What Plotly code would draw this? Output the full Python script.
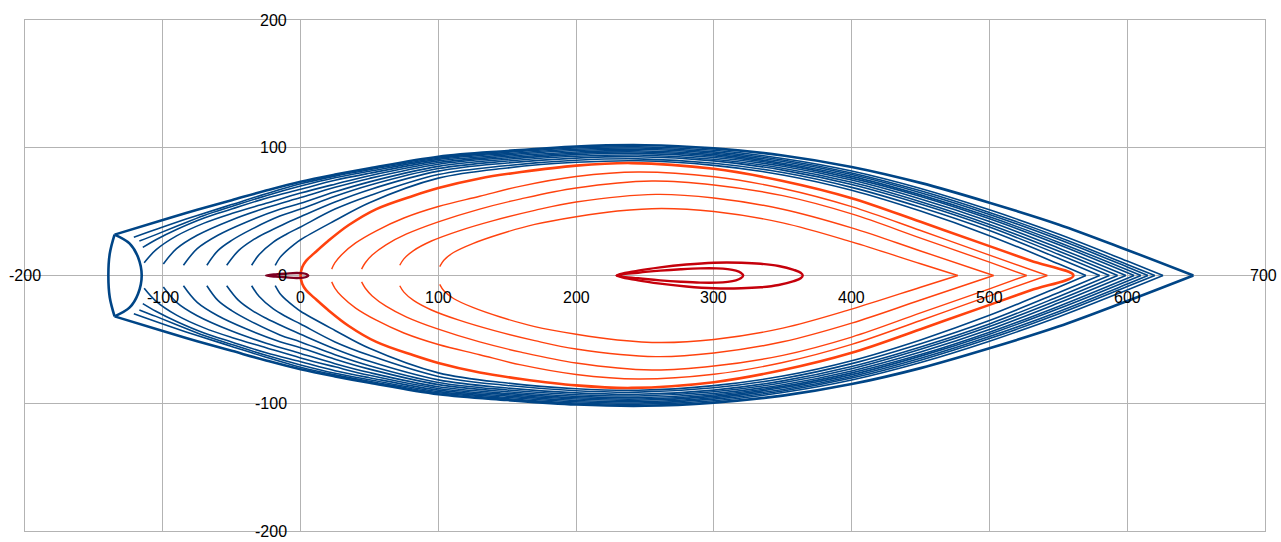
import plotly.graph_objects as go

# ---------------- data (upper halves; curves are mirror-symmetric about y=0) ----------------
C1_X = [-18.4, -15, -10, -5, 0, 25, 50, 100, 150, 200, 245, 300, 350, 400, 450, 500, 550, 570]
C1_Y = [8, 14, 19.5, 24, 28, 43, 57, 76.2, 84.2, 88.6, 89.8, 86.2, 78.7, 66.7, 50.4, 31.2, 9.2, 0]
C2_X = [-35.5, -30, -20, -10, 0, 25, 50, 100, 150, 200, 245, 300, 350, 400, 450, 500, 550, 580]
C2_Y = [8, 16.5, 26, 32.5, 38, 52, 62.5, 79.0, 86.1, 90.2, 91.3, 87.9, 80.6, 69.0, 53.4, 35.2, 13.5, 0]
C3_X = [-53.6, -45, -35, -25, -12.5, 0, 25, 50, 100, 150, 200, 245, 300, 350, 400, 450, 500, 550, 587]
C3_Y = [8, 19.5, 27.5, 33.5, 40, 46, 57.5, 67.2, 81.7, 88.1, 91.9, 93, 89.7, 82.5, 71.2, 55.9, 37.9, 16.6, 0]
C4_X = [-68, -60, -50, -35, -15, 0, 25, 50, 100, 150, 200, 245, 300, 350, 400, 450, 500, 550, 593]
C4_Y = [8, 19.5, 27.5, 36.5, 46.5, 52, 62, 70.6, 83.7, 89.6, 93.3, 94.3, 91.0, 84.0, 73.0, 57.8, 40.0, 19.2, 0]
C5_X = [-85, -75, -60, -40, -15, 0, 25, 50, 100, 150, 200, 245, 300, 350, 400, 450, 500, 550, 599]
C5_Y = [8, 21, 31.5, 41.5, 51.8, 56.5, 65.5, 73.3, 85.4, 91.0, 94.6, 95.6, 92.4, 85.5, 74.7, 59.9, 42.3, 21.6, 0]
C6_X = [-99.6, -90, -75, -50, -25, 0, 25, 50, 100, 150, 200, 245, 300, 350, 400, 450, 500, 550, 605]
C6_Y = [9, 21, 31.5, 43.5, 53, 61, 69, 76, 87.1, 92.2, 95.7, 96.7, 93.5, 86.8, 76.2, 61.9, 44.4, 24.2, 0]
C7_X = [-113.5, -105, -90, -70, -50, -25, 0, 25, 50, 100, 150, 200, 245, 300, 350, 400, 450, 500, 550, 610]
C7_Y = [10, 20, 31, 41, 48.5, 56.5, 64.5, 71.5, 78.1, 88.4, 93.3, 96.7, 97.7, 94.6, 87.9, 77.6, 63.1, 45.9, 26.1, 0]
C8_X = [-114.5, -105, -90, -70, -50, -25, 0, 25, 50, 100, 150, 200, 245, 300, 350, 400, 450, 500, 550, 600, 615]
C8_Y = [22, 28, 36, 45, 52, 60.5, 67.5, 74.5, 80, 89.7, 94.4, 97.8, 98.8, 95.7, 89.2, 79.0, 64.8, 47.8, 28.3, 6.7, 0]
C9_X = [-117, -105, -90, -70, -50, -25, 0, 25, 50, 100, 150, 200, 245, 300, 350, 400, 450, 500, 550, 600, 620]
C9_Y = [27, 32, 38.5, 47, 54, 62.5, 70, 76.5, 81.6, 90.9, 95.4, 98.8, 99.8, 96.8, 90.4, 80.3, 66.3, 49.4, 30.2, 8.7, 0]
C10_X = [-121, -100, -75, -50, -25, 0, 25, 50, 100, 150, 200, 245, 300, 350, 400, 450, 500, 550, 600, 626]
C10_Y = [30, 38, 47, 55.5, 64, 71.8, 77.8, 82.8, 91.8, 96.4, 99.8, 100.8, 98.0, 91.6, 81.8, 68.1, 51.4, 32.5, 11.3, 0]
OUT_X = [-135, -100, -75, -50, -25, 0, 25, 50, 100, 150, 200, 250, 300, 350, 400, 450, 500, 550, 600, 648]
OUT_Y = [32, 43.5, 51.5, 59, 66.5, 73.4, 79, 84, 93, 97.5, 101, 102, 99.5, 94, 85, 72.5, 57, 40, 20, 0]

D_LEFT_X = [-135, -138.5, -139.5, -138.5, -135]
D_LEFT_Y = [32, 17, 0, -17, -32]
D_RIGHT_X = [-135, -124, -118, -115.3, -118, -124, -135]
D_RIGHT_Y = [32, 25, 14.5, 0, -14.5, -25, -32]

T_X = [0, 1.2, 4, 10, 20, 35, 55, 82, 100, 130, 160, 200, 240, 300, 350, 400, 450, 500, 530, 561]
T_Y = [0, 6.5, 11.5, 17.5, 27, 39.5, 52, 62.5, 68.5, 76, 81, 86, 88, 83.5, 74, 60.5, 42, 23, 11.6, 0]
O1_X = [22.6, 25, 30, 40, 55, 75, 100, 130, 160, 200, 245, 300, 350, 400, 450, 500, 542]
O1_Y = [5, 10, 16.5, 25.5, 35, 45, 54, 62, 70, 77.5, 81, 77.3, 68.1, 53.9, 35.2, 16.0, 0]
O2_X = [44.3, 47, 52, 62, 77, 100, 130, 160, 200, 255, 300, 350, 400, 450, 500, 527]
O2_Y = [5, 10, 16, 24, 32.5, 42, 52, 60, 68.5, 74, 70.9, 62.5, 48.2, 29.3, 10.4, 0]
O3_X = [72, 75, 82, 95, 115, 140, 170, 200, 258, 300, 350, 400, 450, 503]
O3_Y = [8, 13, 19.5, 27, 35, 43, 51, 57.5, 63.5, 60.7, 51.9, 37.3, 19.2, 0]
O4_X = [101, 104, 111, 125, 145, 170, 200, 230, 262, 300, 350, 400, 450, 477]
O4_Y = [7, 12, 18, 25, 32.5, 40, 46, 50.5, 52.5, 50.1, 41.2, 26.3, 9.2, 0]

L1_X = [229.4, 245, 261, 280, 300, 320, 334, 347, 358, 363, 364.5]
L1_Y = [0, 3.8, 6.4, 8.6, 10, 10, 9.2, 7.4, 4.4, 2.2, 0]
L2_X = [229.4, 245, 261, 276, 290, 302, 310, 316, 319.5, 321.3]
L2_Y = [0, 2.2, 3.8, 4.9, 5.6, 5.6, 5.0, 3.8, 2.2, 0]
M_X = [-25, -18, -10, -3, 2, 4.5, 5.6]
M_Y = [0, 0.9, 1.5, 1.9, 1.7, 1.0, 0]

X_TICKS = [-200, -100, 0, 100, 200, 300, 400, 500, 600, 700]
Y_TICKS = [-200, -100, 0, 100, 200]

BLUE = "#004586"
ORANGE = "#ff420e"
RED = "#c5000b"
MAROON = "#7e0021"
GRID = "#b3b3b3"


def open_curve(xs, ys):
    """upper half and mirrored lower half as two separate segments"""
    return xs + [None] + xs, ys + [None] + [-v for v in ys]


def through_vertex(xs, ys):
    """lower half reversed then upper half: one smooth path through the vertex"""
    return xs[::-1] + xs[1:], [-v for v in ys[::-1]] + ys[1:]


def loop(xs, ys):
    """upper half to the round end, then back along the lower half"""
    return xs + xs[-2::-1], ys + [-v for v in ys[-2::-1]]


fig = go.Figure()


def add(xy, color, width):
    fig.add_trace(go.Scatter(x=xy[0], y=xy[1], mode="lines",
                             line=dict(color=color, width=width, shape="spline", smoothing=1.0),
                             connectgaps=False, hoverinfo="skip", showlegend=False))


for cx, cy in [(C1_X, C1_Y), (C2_X, C2_Y), (C3_X, C3_Y), (C4_X, C4_Y), (C5_X, C5_Y),
               (C6_X, C6_Y), (C7_X, C7_Y), (C8_X, C8_Y), (C9_X, C9_Y), (C10_X, C10_Y)]:
    add(open_curve(cx, cy), BLUE, 1.6)

add(open_curve(OUT_X, OUT_Y), BLUE, 2.6)
add((D_LEFT_X, D_LEFT_Y), BLUE, 2.6)
add((D_RIGHT_X, D_RIGHT_Y), BLUE, 2.6)

for cx, cy in [(O1_X, O1_Y), (O2_X, O2_Y), (O3_X, O3_Y), (O4_X, O4_Y)]:
    add(open_curve(cx, cy), ORANGE, 1.4)
add(through_vertex(T_X, T_Y), ORANGE, 2.6)

add(loop(L1_X, L1_Y), RED, 2.4)
add(loop(L2_X, L2_Y), RED, 2.4)
add(loop(M_X, M_Y), MAROON, 2.4)

annotations = []
FONT = dict(family="Liberation Sans, Arial, sans-serif", size=16, color="#000000")
for v in X_TICKS:
    shift = 0 if v in (X_TICKS[0], X_TICKS[-1]) else -22
    xs = -2 if v == X_TICKS[-1] else 0
    annotations.append(dict(x=v, y=0, xref="x", yref="y", text=str(v), showarrow=False,
                            xanchor="center", yanchor="middle", yshift=shift, xshift=xs,
                            font=FONT))
for v in Y_TICKS:
    annotations.append(dict(x=0, y=v, xref="x", yref="y", text=str(v), showarrow=False,
                            xanchor="right", yanchor="middle", xshift=-12, font=FONT))

axis_common = dict(showgrid=True, gridcolor=GRID, gridwidth=1, zeroline=True,
                   zerolinecolor=GRID, zerolinewidth=1, showticklabels=False, ticks="",
                   showline=True, mirror=True, linecolor=GRID, linewidth=1, dtick=100)

fig.update_layout(
    width=1281, height=542,
    margin=dict(l=25, r=16, t=20, b=11),
    paper_bgcolor="white", plot_bgcolor="white",
    xaxis=dict(range=[-200, 700], tick0=-200, **axis_common),
    yaxis=dict(range=[-200, 200], tick0=-200, **axis_common),
    annotations=annotations,
    showlegend=False,
)

# remove the browser's default 8 px body margin so the figure fills the window exactly
fig.write_html("out.html",
               config={"displayModeBar": False},
               post_script="document.body.style.margin='0';"
                           "document.body.style.overflow='hidden';")
